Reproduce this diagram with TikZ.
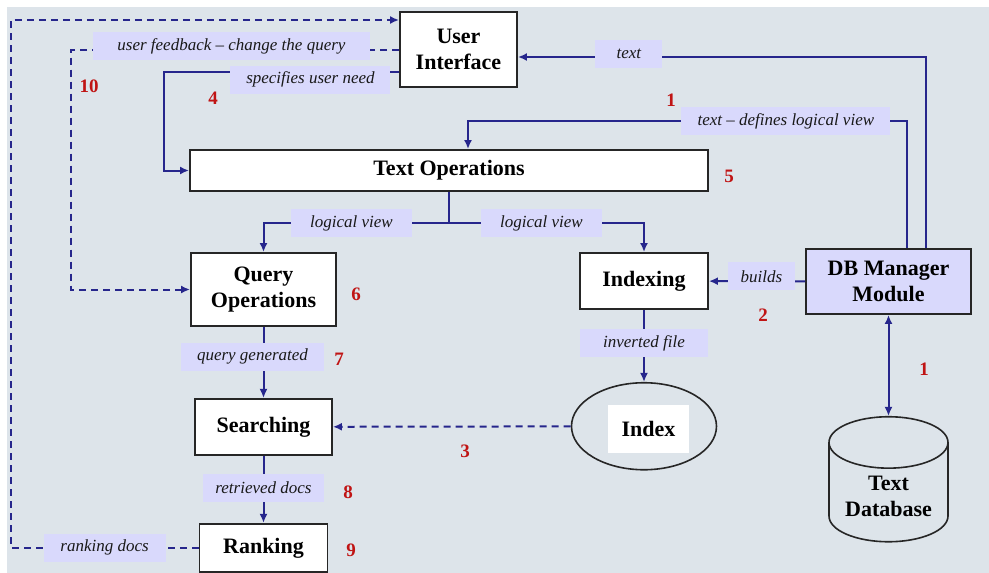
\documentclass[tikz,border=0pt]{standalone}
\usepackage{fontspec}
\setmainfont{Liberation Serif}
\usetikzlibrary{shapes, shapes.geometric, arrows.meta, positioning}
\definecolor{bgcol}{RGB}{221,228,234}
\definecolor{lavcol}{RGB}{217,217,252}
\definecolor{navy}{RGB}{38,38,140}
\definecolor{numred}{RGB}{192,20,20}
\tikzstyle{block} = [rectangle, draw=black!85, line width=1.9pt, fill=white, align=center,
inner sep=0pt, font=\fontsize{22}{26}\selectfont\bfseries]
\tikzstyle{lbl} = [rectangle, fill=lavcol, minimum height=28pt, inner sep=0pt, text=black!90,
font=\fontsize{17}{19}\selectfont\itshape]
\tikzstyle{line} = [draw=navy, line width=2pt, -{Latex[length=9pt,width=8pt]}]
\tikzstyle{dline} = [line, dash pattern=on 7pt off 5pt]
\tikzstyle{num} = [text=numred, font=\fontsize{19}{21}\selectfont\bfseries]

\begin{document}
\begin{tikzpicture}[x=1pt, y=-1pt]
	\fill [bgcol] (7,7) rectangle (989,573);
	\useasboundingbox (0,0) rectangle (989,573);
	
	% Place nodes
	\node [block, minimum width=117pt, minimum height=75pt] 	(UI) at (458.5,49.5)	{User\\Interface};
	\node [block, minimum width=518pt, minimum height=41pt] 	(TO) at (449,170.5)		{Text Operations};
	\node [block, minimum width=145pt, minimum height=73pt] 	(QO) at (263.5,289.5)	{Query\\Operations};
	\node [block, below=71pt of QO, minimum width=137pt, minimum height=56pt]	(Search)	{Searching};
	\node [block, below=67pt of Search, minimum width=128pt, minimum height=48pt]	(Rank)	{Ranking};
	\node [block, minimum width=128pt, minimum height=56pt] 	(Idx) at (644,281)		{Indexing};
	\node [ellipse, draw=black!85, line width=1.6pt, below=72pt of Idx, minimum width=145pt, minimum height=87pt] (Index) {};
	\node [fill=white, minimum width=81pt, minimum height=48pt, font=\fontsize{22}{26}\selectfont\bfseries] (IndexLbl) at (648.5,429) {Index};
	\node [block, fill=lavcol, minimum width=165pt, minimum height=65pt] (DB) at (888.5,281.5) {DB Manager\\Module};
	\node [cylinder, shape border rotate=90, aspect=0.55, draw=black!85, line width=1.6pt, below=101pt of DB,
	minimum width=119pt, minimum height=125pt, align=center, font=\fontsize{22}{26}\selectfont\bfseries] (TDB) {Text\\Database};
	
	% Draw edges
	\path [line] ([xshift=37.5pt]DB.north) |- node [lbl, minimum width=67pt, pos=0.864, yshift=3.5pt] {text} ([yshift=-7.5pt]UI.east);
	\path [line] ([xshift=18.5pt]DB.north) -- ++(0,-127) -| node [lbl, minimum width=209pt, pos=0.138] {text -- defines logical view} ([xshift=19pt]TO.north);
	\path [line] ([yshift=-22.5pt]UI.west) -- node [lbl, minimum width=160pt, pos=0.377, yshift=-7.5pt] {specifies user need} ++(-235,0) |- (TO.west);
	\path [dline] (UI.west) -- node [lbl, minimum width=277pt, pos=0.511, yshift=3.5pt] {user feedback -- change the query} ++(-328,0) |- (QO.west);
	\path [dline] (Rank.west) -- node [lbl, minimum width=122pt, pos=0.5] {ranking docs} ++(-188,0) |- ([yshift=29.5pt]UI.west);
	\path [line] (TO.south) -- ++(0,31) -| node [lbl, minimum width=121pt, pos=0.263] {logical view} (QO.north);
	\path [line] (TO.south) -- ++(0,31) -| node [lbl, minimum width=121pt, pos=0.237] {logical view} (Idx.north);
	\path [line] (QO) -- node [lbl, minimum width=143pt, pos=0.42, xshift=-11pt] {query generated} (Search);
	\path [line] (Search) -- node [lbl, minimum width=121pt, pos=0.48] {retrieved docs} (Rank);
	\path [line] (DB) -- node [lbl, minimum width=67pt, pos=0.454, yshift=5pt] {builds} (Idx);
	\path [line] (Idx) -- node [lbl, minimum width=128pt, pos=0.458] {inverted file} (Index);
	\path [dline] (Index) -- (Search);
	\path [line, {Latex[length=9pt,width=8pt]}-{Latex[length=9pt,width=8pt]}] (DB) -- (TDB);
	
	% Step numbers
	\node [num] (n10) at (89,86)	{10};
	\node [num] (n4) at (213,98)	{4};
	\node [num] (n1a) at (671,100)	{1};
	\node [num] (n5) at (729,176)	{5};
	\node [num] (n6) at (356,294)	{6};
	\node [num] (n7) at (339,359)	{7};
	\node [num] (n2) at (763,315)	{2};
	\node [num] (n3) at (465,451)	{3};
	\node [num] (n1b) at (924,369)	{1};
	\node [num] (n8) at (348,492)	{8};
	\node [num] (n9) at (351,550)	{9};
	
\end{tikzpicture}
\end{document}
